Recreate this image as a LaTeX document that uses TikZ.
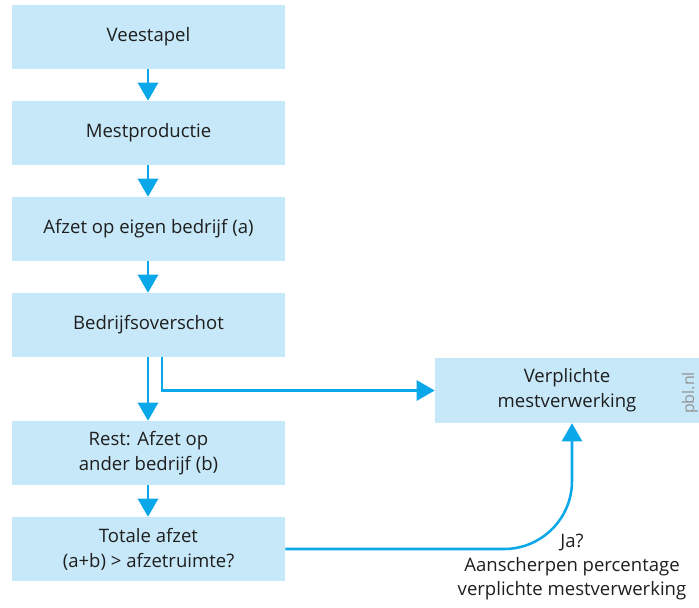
\documentclass[tikz,border=0pt]{standalone}
\usepackage{fontspec}
\setmainfont{Open Sans}
\usetikzlibrary{arrows.meta}
\definecolor{boxfill}{HTML}{C7E8F8}
\definecolor{pblblue}{HTML}{0AA8E8}
\definecolor{txt}{HTML}{1E1E1E}
\tikzset{
  px/.style={x=0.75pt,y=-0.75pt},
  box/.style={fill=boxfill,draw=none,minimum width=204.75pt,minimum height=48pt,
    inner sep=0pt,align=center,text=txt,font=\fontsize{13.9pt}{18.75pt}\selectfont},
  flow/.style={draw=pblblue,line width=1.9pt,-{Triangle[width=15pt,length=13.5pt]}},
  lbl/.style={align=center,text=txt,font=\fontsize{13.9pt}{18pt}\selectfont,inner sep=0pt}
}
\begin{document}
\begin{tikzpicture}[px]
\useasboundingbox (0,0) rectangle (699,607);
\node[box] (b1) at (148.5,37) {Veestapel};
\node[box] (b2) at (148.5,133) {Mestproductie};
\node[box] (b3) at (148.5,229) {Afzet op eigen bedrijf (a)};
\node[box] (b4) at (148.5,325) {Bedrijfsoverschot};
\node[box] (b5) at (148.5,453) {Rest: Afzet op\\ander bedrijf (b)};
\node[box] (b6) at (148.5,549) {Totale afzet\\(a+b) > afzetruimte?};
\node[box,minimum width=198pt,minimum height=48.75pt] (r) at (567,390.5) {Verplichte\\mestverwerking};
\node[rotate=90,text=gray!85,font=\fontsize{12pt}{13pt}\selectfont,inner sep=0pt] (pbl) at (690,393) {pbl.nl};
\draw[flow] (b1.south -| 148,0) -- (b2.north -| 148,0);
\draw[flow] (b2.south -| 148,0) -- (b3.north -| 148,0);
\draw[flow] (b3.south -| 148,0) -- (b4.north -| 148,0);
\draw[flow] (b4.south -| 148,0) -- (b5.north -| 148,0);
\draw[flow] (b5.south -| 148,0) -- (b6.north -| 148,0);
\coordinate (t4) at (b4.south -| 162,0);
\draw[flow] (t4) |- (r.west);
\coordinate (rs) at (r.south -| 572,0);
\draw[flow,rounded corners=51pt] (b6.east) -| (rs);
\node[lbl] (ja) at (572,567) {Ja?\\Aanscherpen percentage\\verplichte mestverwerking};
\end{tikzpicture}
\end{document}
